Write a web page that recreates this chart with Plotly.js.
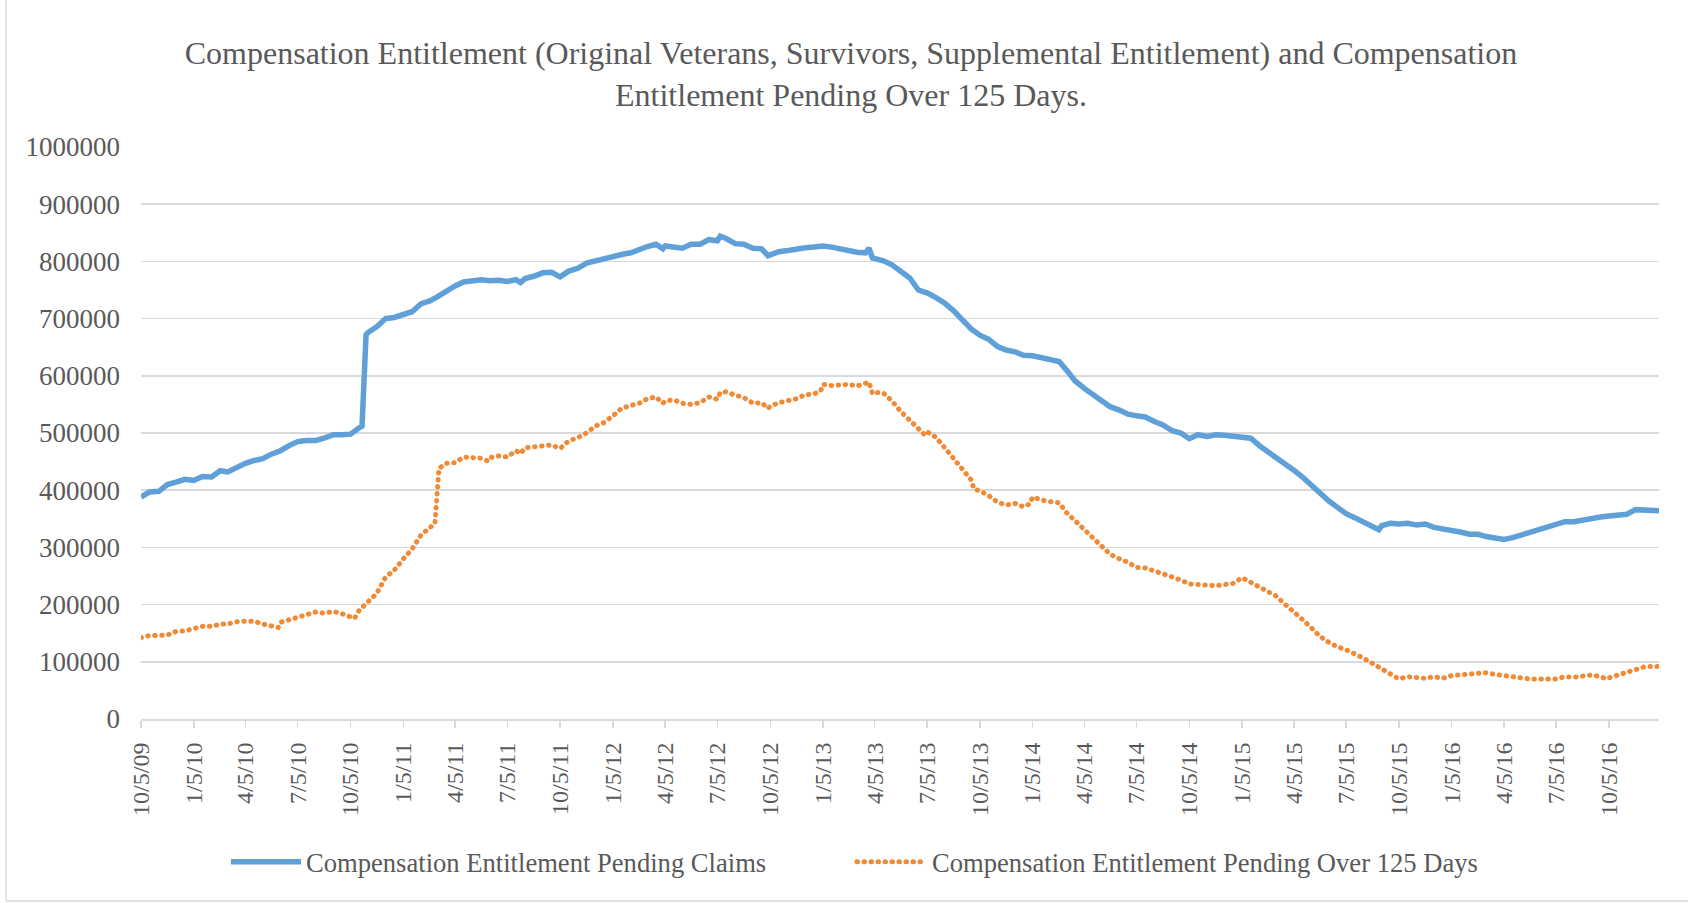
<!DOCTYPE html>
<html>
<head>
<meta charset="utf-8">
<script src="https://cdn.plot.ly/plotly-3.0.1.min.js"></script>
<style>
  html, body { margin: 0; padding: 0; background: #ffffff; }
  #chart { width: 1690px; height: 903px; }
  #chart .scatterlayer .trace:nth-child(2) path.js-line,
  #chart .legend .traces:nth-child(2) path.js-line { stroke-linecap: round !important; }
</style>
</head>
<body>
<div id="chart"></div>
<script>
// ---------------- DATA ----------------
const chartTitle = "Compensation Entitlement (Original Veterans, Survivors, Supplemental Entitlement) and Compensation<br>Entitlement Pending Over 125 Days.";

const seriesNames = [
  "Compensation Entitlement Pending Claims",
  "Compensation Entitlement Pending Over 125 Days"
];

const xTickVals = [
  "2009-10-05","2010-01-05","2010-04-05","2010-07-05","2010-10-05",
  "2011-01-05","2011-04-05","2011-07-05","2011-10-05",
  "2012-01-05","2012-04-05","2012-07-05","2012-10-05",
  "2013-01-05","2013-04-05","2013-07-05","2013-10-05",
  "2014-01-05","2014-04-05","2014-07-05","2014-10-05",
  "2015-01-05","2015-04-05","2015-07-05","2015-10-05",
  "2016-01-05","2016-04-05","2016-07-05","2016-10-05"
];
const xTickText = [
  "10/5/09","1/5/10","4/5/10","7/5/10","10/5/10",
  "1/5/11","4/5/11","7/5/11","10/5/11",
  "1/5/12","4/5/12","7/5/12","10/5/12",
  "1/5/13","4/5/13","7/5/13","10/5/13",
  "1/5/14","4/5/14","7/5/14","10/5/14",
  "1/5/15","4/5/15","7/5/15","10/5/15",
  "1/5/16","4/5/16","7/5/16","10/5/16"
];

const yTickVals = [0,100000,200000,300000,400000,500000,600000,700000,800000,900000,1000000];
const yTickText = ["0","100000","200000","300000","400000","500000","600000","700000","800000","900000","1000000"];

// Series 1: Compensation Entitlement Pending Claims
const pendingDates = [
  "2009-10-05","2009-10-20","2009-11-05","2009-11-20","2009-12-05","2009-12-20",
  "2010-01-05","2010-01-20","2010-02-05","2010-02-20","2010-03-05","2010-03-20",
  "2010-04-05","2010-04-20","2010-05-05","2010-05-20","2010-06-05","2010-06-20",
  "2010-07-05","2010-07-20","2010-08-05","2010-08-20","2010-09-05","2010-09-20",
  "2010-10-05","2010-10-20","2010-10-25","2010-11-01","2010-11-05","2010-11-20","2010-12-05","2010-12-20",
  "2011-01-05","2011-01-20","2011-02-05","2011-02-20","2011-03-05","2011-03-20",
  "2011-04-05","2011-04-20","2011-05-05","2011-05-20","2011-06-05","2011-06-20",
  "2011-07-05","2011-07-20","2011-07-28","2011-08-05","2011-08-20","2011-09-05","2011-09-20",
  "2011-10-05","2011-10-20","2011-11-05","2011-11-20","2011-12-05","2011-12-20",
  "2012-01-05","2012-01-20","2012-02-05","2012-02-20","2012-03-05","2012-03-20",
  "2012-04-01","2012-04-05","2012-04-20","2012-05-05","2012-05-20","2012-06-05","2012-06-20",
  "2012-07-05","2012-07-10","2012-07-20","2012-08-05","2012-08-20","2012-09-05","2012-09-20",
  "2012-10-01","2012-10-05","2012-10-20","2012-11-05","2012-11-20","2012-12-05","2012-12-20",
  "2013-01-05","2013-01-20","2013-02-05","2013-02-20","2013-03-05","2013-03-20","2013-03-26",
  "2013-04-01","2013-04-05","2013-04-20","2013-05-05","2013-05-20","2013-06-05","2013-06-20",
  "2013-07-05","2013-07-20","2013-08-05","2013-08-20","2013-09-05","2013-09-20",
  "2013-10-05","2013-10-20","2013-11-05","2013-11-20","2013-12-05","2013-12-20",
  "2014-01-05","2014-01-20","2014-02-05","2014-02-20","2014-03-05","2014-03-20",
  "2014-04-05","2014-04-20","2014-05-05","2014-05-20","2014-06-05","2014-06-20",
  "2014-07-05","2014-07-20","2014-08-05","2014-08-20","2014-09-05","2014-09-20",
  "2014-10-05","2014-10-20","2014-11-05","2014-11-20","2014-12-05","2014-12-20",
  "2015-01-05","2015-01-20","2015-02-05","2015-02-20","2015-03-05","2015-03-20",
  "2015-04-05","2015-04-20","2015-05-05","2015-05-20","2015-06-05","2015-06-20",
  "2015-07-05","2015-07-20","2015-08-05","2015-08-20","2015-08-31","2015-09-05","2015-09-20",
  "2015-10-05","2015-10-20","2015-11-05","2015-11-20","2015-12-05","2015-12-20",
  "2016-01-05","2016-01-20","2016-02-05","2016-02-20","2016-03-05","2016-03-20",
  "2016-04-05","2016-04-20","2016-05-05","2016-05-20","2016-06-05","2016-06-20",
  "2016-07-05","2016-07-20","2016-08-05","2016-08-20","2016-09-05","2016-09-20",
  "2016-10-05","2016-10-20","2016-11-05","2016-11-20","2016-12-05","2016-12-20","2016-12-31"
];
const pendingClaims = [
  388e3,397e3,398e3,410e3,414e3,419e3,
  417e3,424e3,423e3,434e3,432e3,440e3,
  447e3,452e3,455e3,463e3,469e3,478e3,
  485e3,487e3,487e3,491e3,497e3,497e3,
  498e3,509e3,512e3,672e3,676e3,686e3,700e3,702e3,
  706e3,712e3,726e3,731e3,738e3,748e3,
  757e3,764e3,767e3,768e3,766e3,767e3,
  765e3,768e3,763e3,770e3,774e3,780e3,781e3,
  773e3,783e3,788e3,797e3,801e3,805e3,
  807e3,812e3,815e3,821e3,826e3,830e3,
  822e3,827e3,826e3,823e3,830e3,830e3,838e3,
  836e3,844e3,840e3,831e3,830e3,823e3,822e3,
  810e3,812e3,817e3,819e3,822e3,824e3,825e3,
  827e3,825e3,821e3,818e3,816e3,815e3,823e3,
  806e3,805e3,801e3,794e3,783e3,771e3,750e3,
  745e3,737e3,727e3,714e3,698e3,682e3,
  671e3,664e3,651e3,645e3,642e3,636e3,
  635e3,632e3,627e3,625e3,610e3,591e3,
  578e3,568e3,556e3,546e3,540e3,533e3,
  530e3,528e3,520e3,514e3,504e3,500e3,
  490e3,497e3,494e3,497e3,496e3,495e3,
  494e3,491e3,477e3,467e3,456e3,448e3,
  435e3,423e3,409e3,398e3,381e3,370e3,
  359e3,352e3,344e3,339e3,331e3,338e3,342e3,
  341e3,342e3,339e3,341e3,335e3,333e3,
  331e3,327e3,323e3,323e3,319e3,317e3,
  314e3,317e3,322e3,325e3,331e3,337e3,
  341e3,345e3,345e3,348e3,352e3,353e3,
  355e3,356e3,358e3,366e3,366e3,365e3,364e3
];

// Series 2: Compensation Entitlement Pending Over 125 Days
const over125Dates = [
  "2009-10-05","2009-10-20","2009-11-05","2009-11-20","2009-12-05","2009-12-20",
  "2010-01-05","2010-01-20","2010-02-05","2010-02-20","2010-03-05","2010-03-20",
  "2010-04-05","2010-04-20","2010-05-05","2010-05-20","2010-06-01","2010-06-05","2010-06-20",
  "2010-07-05","2010-07-20","2010-08-05","2010-08-20","2010-09-05","2010-09-20",
  "2010-10-05","2010-10-12","2010-10-20","2010-11-05","2010-11-20","2010-12-05","2010-12-20",
  "2011-01-05","2011-01-20","2011-02-05","2011-02-20","2011-03-01","2011-03-08","2011-03-20",
  "2011-04-05","2011-04-20","2011-05-05","2011-05-20","2011-06-01","2011-06-05","2011-06-20",
  "2011-07-05","2011-07-20","2011-07-28","2011-08-05","2011-08-20","2011-09-05","2011-09-20",
  "2011-10-05","2011-10-20","2011-11-05","2011-11-20","2011-12-05","2011-12-20",
  "2012-01-05","2012-01-20","2012-02-05","2012-02-20","2012-03-05","2012-03-20",
  "2012-04-01","2012-04-05","2012-04-20","2012-05-05","2012-05-20","2012-06-05","2012-06-20",
  "2012-07-05","2012-07-10","2012-07-20","2012-08-05","2012-08-20","2012-09-05","2012-09-20",
  "2012-10-01","2012-10-05","2012-10-20","2012-11-05","2012-11-20","2012-12-05","2012-12-20",
  "2013-01-01","2013-01-05","2013-01-20","2013-02-05","2013-02-20","2013-03-05","2013-03-20","2013-03-26",
  "2013-04-01","2013-04-05","2013-04-20","2013-05-05","2013-05-20","2013-06-05","2013-06-20",
  "2013-07-01","2013-07-05","2013-07-20","2013-08-05","2013-08-20","2013-09-05","2013-09-20","2013-09-25",
  "2013-10-05","2013-10-20","2013-11-05","2013-11-20","2013-12-05","2013-12-20","2013-12-31",
  "2014-01-05","2014-01-20","2014-02-05","2014-02-20","2014-03-05","2014-03-20",
  "2014-04-05","2014-04-20","2014-05-05","2014-05-20","2014-06-05","2014-06-20",
  "2014-07-05","2014-07-20","2014-08-05","2014-08-20","2014-09-05","2014-09-20",
  "2014-10-05","2014-10-20","2014-11-05","2014-11-20","2014-12-05","2014-12-20",
  "2015-01-05","2015-01-20","2015-02-05","2015-02-20","2015-03-05","2015-03-20",
  "2015-04-05","2015-04-20","2015-05-05","2015-05-20","2015-06-05","2015-06-20",
  "2015-07-05","2015-07-20","2015-08-05","2015-08-20","2015-09-05","2015-09-20",
  "2015-10-05","2015-10-20","2015-11-05","2015-11-20","2015-12-05","2015-12-20",
  "2016-01-05","2016-01-20","2016-02-05","2016-02-20","2016-03-05","2016-03-20",
  "2016-04-05","2016-04-20","2016-05-05","2016-05-20","2016-06-05","2016-06-20",
  "2016-07-05","2016-07-20","2016-08-05","2016-08-20","2016-09-05","2016-09-20","2016-10-01",
  "2016-10-05","2016-10-20","2016-11-05","2016-11-20","2016-12-05","2016-12-20","2016-12-31"
];
const pendingOver125 = [
  142e3,146e3,146e3,147e3,153e3,154e3,
  158e3,162e3,162e3,166e3,166e3,170e3,
  171e3,171e3,166e3,163e3,160e3,169e3,173e3,
  178e3,182e3,187e3,185e3,188e3,184e3,
  179e3,176e3,190e3,206e3,220e3,248e3,260e3,
  280e3,297e3,322e3,335e3,342e3,438e3,447e3,
  448e3,458e3,457e3,456e3,451e3,457e3,460e3,
  458e3,469e3,464e3,474e3,476e3,478e3,479e3,
  473e3,486e3,492e3,500e3,512e3,518e3,
  530e3,543e3,548e3,552e3,560e3,563e3,
  552e3,556e3,558e3,552e3,550e3,553e3,563e3,
  559e3,571e3,572e3,566e3,562e3,552e3,553e3,
  543e3,547e3,553e3,557e3,560e3,567e3,568e3,
  574e3,585e3,583e3,585e3,585e3,582e3,586e3,589e3,
  569e3,571e3,570e3,556e3,538e3,522e3,506e3,
  497e3,502e3,493e3,474e3,456e3,435e3,418e3,402e3,
  399e3,391e3,379e3,374e3,377e3,371e3,376e3,
  388e3,383e3,380e3,378e3,361e3,346e3,
  333e3,317e3,302e3,288e3,280e3,274e3,
  265e3,264e3,259e3,254e3,247e3,243e3,
  236e3,236e3,234e3,233e3,234e3,237e3,
  247e3,239e3,231e3,223e3,215e3,201e3,
  188e3,174e3,160e3,145e3,134e3,126e3,
  121e3,114e3,106e3,97e3,87e3,79e3,
  70e3,74e3,72e3,71e3,74e3,71e3,
  76e3,77e3,79e3,80e3,81e3,78e3,
  76e3,75e3,71e3,70e3,70e3,71e3,
  70e3,74e3,73e3,75e3,77e3,74e3,70e3,
  72e3,77e3,82e3,87e3,91e3,92e3,92e3
];

// ---------------- CHART ----------------
const BLUE = "#5FA0D8";
const ORANGE = "#F08A37";
const TEXT = "#595959";
const GRID = "#d9d9d9";
const FONT = '"Liberation Serif", "Times New Roman", serif';

const traces = [
  {
    type: "scatter", mode: "lines", name: seriesNames[0],
    x: pendingDates, y: pendingClaims,
    line: { color: BLUE, width: 5.5 }
  },
  {
    type: "scatter", mode: "lines", name: seriesNames[1],
    x: over125Dates, y: pendingOver125,
    line: { color: ORANGE, width: 5, dash: "0.5px,6.5px" }
  }
];

const W = 1690, H = 903;
const plotL = 141, plotR = 1659, plotT = 147, plotB = 719;

const layout = {
  width: W, height: H,
  paper_bgcolor: "#ffffff", plot_bgcolor: "#ffffff",
  margin: { l: plotL, r: W - plotR, t: plotT, b: H - plotB, pad: 0 },
  font: { family: FONT, color: TEXT },
  showlegend: true,
  title: {
    text: chartTitle,
    font: { family: FONT, size: 32, color: TEXT },
    xref: "container", x: 0.5 + 6 / W, xanchor: "center",
    yref: "container", y: 1 - 64 / H, yanchor: "top"
  },
  xaxis: {
    type: "date",
    range: ["2009-10-05", "2016-12-31"],
    tickmode: "array", tickvals: xTickVals, ticktext: xTickText,
    tickangle: -90,
    ticks: "outside", ticklen: 7, tickwidth: 1.5, tickcolor: GRID,
    showline: true, linecolor: GRID, linewidth: 2,
    showgrid: false, zeroline: false,
    tickfont: { family: FONT, size: 24, color: TEXT },
    ticklabelstandoff: 5,
    fixedrange: true
  },
  yaxis: {
    range: [0, 1000000],
    tickmode: "array", tickvals: yTickVals, ticktext: yTickText,
    showgrid: true, gridcolor: GRID, gridwidth: 1.5,
    zeroline: false, showline: false, ticks: "",
    tickfont: { family: FONT, size: 27, color: TEXT },
    ticklabelstandoff: 20,
    fixedrange: true
  },
  legend: {
    orientation: "h",
    xref: "container", yref: "container",
    x: 0.5 + 7 / W, xanchor: "center",
    y: 41 / H, yanchor: "middle",
    font: { family: FONT, size: 26.6, color: TEXT },
    itemwidth: 70,
    entrywidth: 541, entrywidthmode: "pixels",
    bgcolor: "rgba(0,0,0,0)"
  },
  shapes: [
    { type: "line", xref: "paper", yref: "paper",
      x0: (6 - plotL) / (plotR - plotL), x1: (6 - plotL) / (plotR - plotL),
      y0: (plotB - 0) / (plotB - plotT), y1: (plotB - 901) / (plotB - plotT),
      line: { color: GRID, width: 1.5 } },
    { type: "line", xref: "paper", yref: "paper",
      x0: (6 - plotL) / (plotR - plotL), x1: (1688 - plotL) / (plotR - plotL),
      y0: (plotB - 901) / (plotB - plotT), y1: (plotB - 901) / (plotB - plotT),
      line: { color: GRID, width: 1.5 } }
  ]
};

Plotly.newPlot("chart", traces, layout, { staticPlot: true, displayModeBar: false });
</script>
</body>
</html>
